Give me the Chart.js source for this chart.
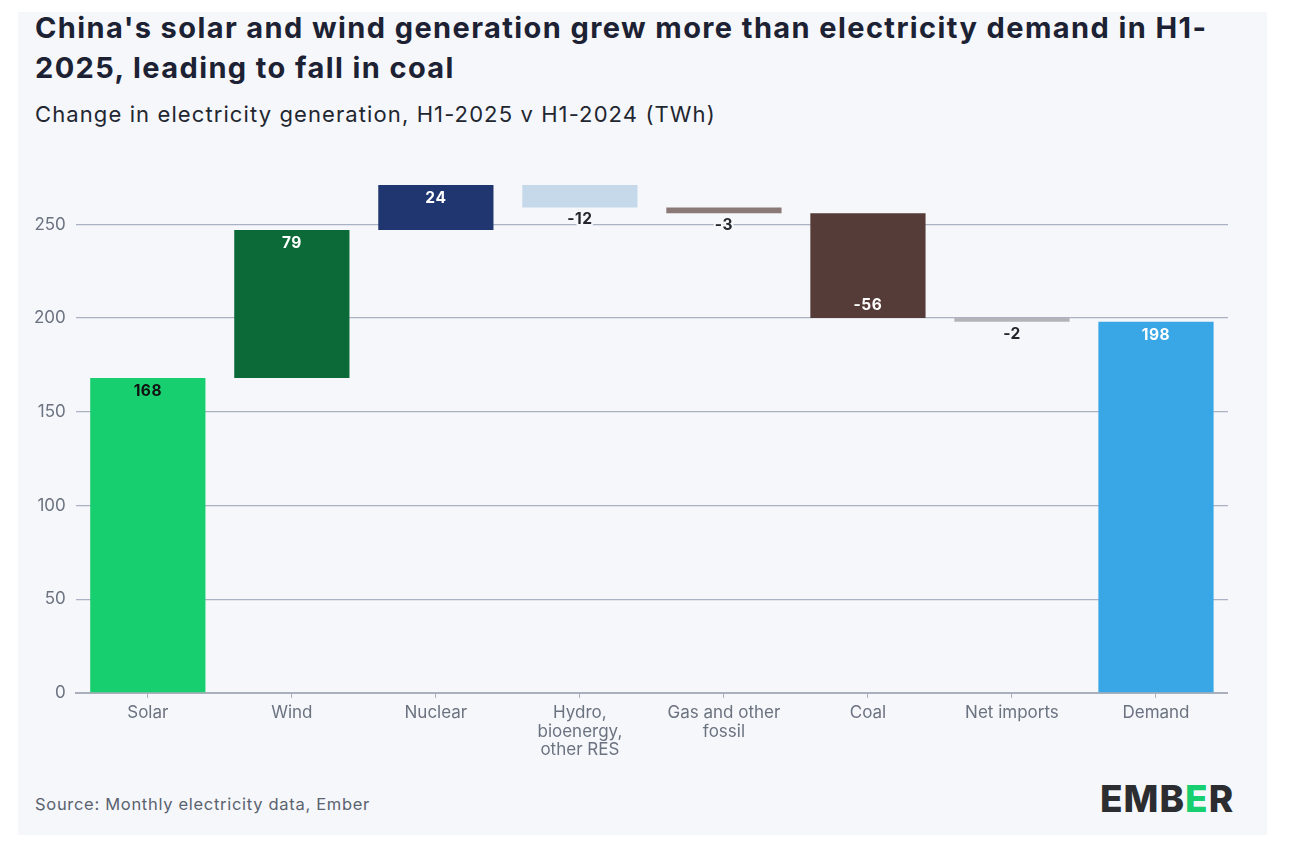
<!DOCTYPE html>
<html>
<head>
<meta charset="utf-8">
<script src="https://cdn.jsdelivr.net/npm/chart.js@4.4.1/dist/chart.umd.min.js"></script>
<style>
  html, body { margin:0; padding:0; background:#ffffff; }
  body { width:1311px; height:859px; position:relative; overflow:hidden; font-family:"Inter", "Noto Sans", sans-serif; }
  #card { position:absolute; left:18px; top:12px; width:1249px; height:823px; background:#f5f7fa; }
  #title { position:absolute; left:17px; top:-4px; width:1215px; font-size:29px; font-weight:700; color:#1c2233; line-height:40px; letter-spacing:1.4px; }
  #subtitle { position:absolute; left:17px; top:89px; font-size:22px; color:#222630; letter-spacing:1.1px; }
  #chartwrap { position:absolute; left:0px; top:136px; width:1210px; height:617px; }
  #source { position:absolute; left:17px; top:782px; font-size:16.5px; color:#5b6270; letter-spacing:0.7px; }
  #logo { position:absolute; left:1082px; top:764px; font-size:37px; font-weight:800; color:#2b2d31; letter-spacing:1px; }
  #logo .g { color:#17cf6e; }
</style>
</head>
<body>
<div id="card">
  <div id="title">China's solar and wind generation grew more than electricity demand in H1-&#8203;2025, leading to fall in coal</div>
  <div id="subtitle">Change in electricity generation, H1-2025 v H1-2024 (TWh)</div>
  <div id="chartwrap"><canvas id="c"></canvas></div>
  <div id="source">Source: Monthly electricity data, Ember</div>
  <div id="logo">EMB<span class="g">E</span>R</div>
</div>
<script>
const categories = ["Solar", "Wind", "Nuclear", ["Hydro,", "bioenergy,", "other RES"], ["Gas and other", "fossil"], "Coal", "Net imports", "Demand"];
const changes = [168, 79, 24, -12, -3, -56, -2];
const demandTotal = 198;
const barColors = ["#17cf6e", "#0b6a37", "#1f3670", "#c5d9ea", "#8b7978", "#553c38", "#b4b3b7", "#39a6e5"];
const labelColors = ["#111111", "#ffffff", "#ffffff", "#23262d", "#23262d", "#ffffff", "#23262d", "#ffffff"];
const yTicks = [0, 50, 100, 150, 200, 250];

// build floating ranges
const ranges = [];
let run = 0;
for (const c of changes) { ranges.push([run, run + c]); run += c; }
ranges.push([0, demandTotal]);
const labels = changes.map(String).concat([String(demandTotal)]);

const cardBg = "#f5f7fa";
const labelPlugin = {
  id: "wfLabels",
  afterDatasetsDraw(chart) {
    const ctx = chart.ctx;
    const meta = chart.getDatasetMeta(0);
    ctx.save();
    ctx.font = "700 15.5px Inter, 'Noto Sans', sans-serif";
    try { ctx.letterSpacing = "0.5px"; } catch (e) {}
    ctx.textAlign = "center";
    ctx.textBaseline = "middle";
    meta.data.forEach((bar, i) => {
      const r = ranges[i];
      const positive = r[1] >= r[0];
      const top = Math.min(bar.y, bar.base), bottom = Math.max(bar.y, bar.base);
      const h = bottom - top;
      let y;
      const inside = h > 28;
      if (positive) {
        y = inside ? top + 13 : top - 12;
      } else {
        y = inside ? bottom - 13 : bottom + 12;
      }
      if (!inside) {
        ctx.lineWidth = 4;
        ctx.strokeStyle = cardBg;
        ctx.lineJoin = "round";
        ctx.strokeText(labels[i], bar.x, y);
      }
      ctx.fillStyle = labelColors[i];
      ctx.fillText(labels[i], bar.x, y);
    });
    ctx.restore();
  }
};

new Chart(document.getElementById("c"), {
  type: "bar",
  data: {
    labels: categories,
    datasets: [{
      data: ranges,
      backgroundColor: barColors,
      borderWidth: 0,
      borderSkipped: false,
      barPercentage: 0.8,
      categoryPercentage: 1.0
    }]
  },
  options: {
    responsive: true,
    maintainAspectRatio: false,
    animation: false,
    layout: { padding: { left: 6, right: 0, top: 0, bottom: 0 } },
    plugins: { legend: { display: false }, tooltip: { enabled: false } },
    scales: {
      x: {
        grid: { drawOnChartArea: false, drawTicks: true, tickLength: 5, color: "#a9afbb", offset: false },
        border: { display: true, color: "#a9afbb", width: 2 },
        ticks: { color: "#6b7280", font: { family: "Inter, 'Noto Sans', sans-serif", size: 17, lineHeight: 1.08 }, padding: 6, maxRotation: 0, autoSkip: false }
      },
      y: {
        min: 0,
        max: 280,
        afterBuildTicks(scale) { scale.ticks = yTicks.map(v => ({ value: v })); },
        grid: { drawTicks: false, color: "#aab2c4", lineWidth: 1.3 },
        border: { display: false },
        ticks: { color: "#6b7280", font: { family: "Inter, 'Noto Sans', sans-serif", size: 17 }, padding: 10 }
      }
    }
  },
  plugins: [labelPlugin]
});
</script>
</body>
</html>
